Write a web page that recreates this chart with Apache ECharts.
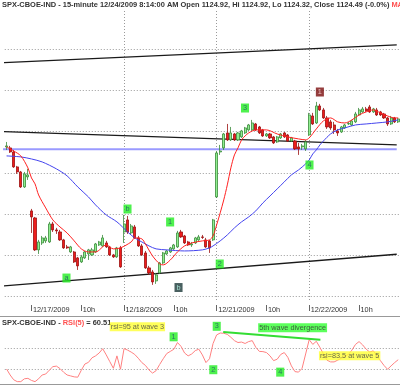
<!DOCTYPE html>
<html><head><meta charset="utf-8">
<script src="https://cdn.jsdelivr.net/npm/echarts@6/dist/echarts.min.js"></script>
<style>html,body{margin:0;padding:0;background:#fff}#c{width:400px;height:385px}</style>
</head><body><div id="c"></div>
<script>
// ---- categories (15-minute bars, times as shown on the chart) ----
const days = ['12/16/2009','12/17/2009','12/18/2009','12/21/2009','12/22/2009'];
const firstDayTimes = ['11:15','11:30','11:45','12:00','12:15','12:30','12:45'];
const dayTimes = ['6:30','6:45','7:00','7:15','7:30','7:45','8:00','8:15','8:30','8:45','9:00','9:15','9:30','9:45',
  '10:00','10:15','10:30','10:45','11:00','11:15','11:30','11:45','12:00','12:15','12:30','12:45'];
const hourTickTime = '10:00';
const hourTickLabel = '10h';

// ---- price candles [open, close, low, high] ----
const candles = [
[1113.14,1113.26,1112.77,1113.74],[1113.02,1112.53,1112.41,1113.26],[1112.53,1110.72,1110.60,1112.77],[1110.72,1110.11,1109.87,1110.84],
[1110.11,1108.29,1108.17,1110.23],[1108.29,1109.87,1108.17,1110.11],[1109.51,1109.75,1109.14,1110.48],
[1105.39,1104.66,1102.72,1105.63],[1104.54,1100.67,1100.54,1104.66],[1100.67,1101.63,1100.18,1101.88],[1101.51,1102.12,1101.27,1102.36],
[1101.76,1102.12,1101.51,1102.36],[1101.63,1103.81,1101.51,1104.06],[1103.81,1103.09,1102.84,1104.06],[1103.09,1102.97,1102.60,1103.33],
[1102.84,1101.88,1101.76,1103.09],[1101.88,1100.91,1100.79,1102.00],[1101.03,1100.91,1100.79,1101.27],[1100.42,1101.03,1100.30,1101.15],
[1100.42,1099.21,1099.09,1100.54],[1099.70,1098.73,1098.24,1099.82],[1099.21,1099.82,1099.09,1100.06],[1099.70,1100.42,1099.58,1100.54],
[1100.18,1100.67,1099.45,1100.79],[1100.06,1100.67,1099.94,1100.91],[1100.42,1101.39,1100.30,1101.51],[1101.27,1101.63,1101.15,1101.76],
[1101.15,1102.12,1101.03,1102.48],[1101.51,1101.03,1100.91,1101.76],[1101.03,1100.06,1099.94,1101.15],[1100.06,1099.82,1099.70,1100.18],
[1099.82,1100.91,1099.70,1101.03],[1100.91,1098.61,1098.49,1101.15],
[1102.84,1103.81,1101.51,1104.90],[1104.30,1102.84,1102.60,1104.78],[1102.72,1103.57,1102.48,1103.81],[1103.45,1102.12,1102.00,1103.69],
[1102.12,1101.15,1101.03,1102.36],[1101.15,1100.06,1099.94,1101.39],[1100.30,1098.49,1098.37,1100.54],[1098.49,1097.88,1097.64,1098.73],
[1098.00,1096.79,1096.43,1098.24],[1096.91,1097.64,1096.55,1097.88],[1097.88,1099.09,1097.76,1099.21],[1099.09,1100.30,1098.97,1100.42],
[1100.18,1100.54,1100.06,1100.67],[1100.42,1100.91,1100.30,1101.03],[1100.79,1101.27,1100.67,1101.39],[1101.03,1102.72,1100.91,1102.97],
[1102.84,1102.24,1102.12,1103.09],[1102.36,1101.51,1101.39,1102.48],[1101.63,1101.27,1101.15,1101.76],[1101.27,1101.39,1101.03,1101.63],
[1101.51,1102.12,1101.39,1102.24],[1101.88,1102.24,1101.76,1102.48],[1102.24,1102.18,1102.00,1102.48],[1101.88,1101.03,1100.91,1102.12],
[1101.76,1100.91,1100.30,1101.88],[1101.88,1104.30,1101.76,1104.42],
[1107.08,1112.41,1106.96,1112.65],[1112.53,1112.65,1112.17,1113.38],[1113.02,1114.71,1112.77,1114.83],[1114.83,1113.99,1113.86,1115.92],
[1113.99,1114.83,1113.86,1115.56],[1114.71,1113.99,1113.86,1114.83],[1113.99,1114.83,1113.86,1114.95],[1114.35,1115.08,1114.23,1115.20],
[1114.83,1115.44,1114.71,1115.56],[1115.20,1115.80,1115.08,1115.92],[1115.20,1116.04,1115.08,1116.41],[1115.92,1115.20,1115.08,1116.04],
[1115.56,1114.83,1114.71,1115.68],[1115.20,1114.47,1114.35,1115.32],[1114.47,1114.71,1114.35,1114.83],[1114.71,1114.23,1114.11,1114.83],
[1114.35,1113.62,1113.50,1114.47],[1113.74,1114.35,1113.62,1114.47],[1114.23,1114.71,1114.11,1114.83],[1114.83,1114.35,1114.23,1114.95],
[1114.59,1113.86,1113.74,1114.71],[1113.86,1114.23,1113.74,1114.35],[1113.86,1112.90,1112.77,1113.99],[1113.14,1112.90,1112.17,1113.62],
[1113.14,1113.26,1112.77,1113.50],[1112.90,1113.74,1112.65,1113.99],
[1114.59,1117.01,1114.47,1117.26],[1116.89,1115.92,1115.80,1117.26],[1116.04,1118.10,1115.92,1118.59],[1118.10,1117.62,1117.50,1118.35],
[1117.62,1116.65,1116.53,1117.86],[1116.65,1115.56,1115.32,1116.89],[1116.17,1115.44,1115.20,1116.41],[1115.80,1115.20,1114.71,1116.17],
[1115.08,1114.83,1114.47,1115.32],[1114.95,1115.56,1114.83,1115.68],[1115.44,1115.80,1115.32,1115.92],[1115.92,1115.98,1115.80,1116.17],
[1115.80,1116.29,1115.68,1116.41],[1116.17,1117.13,1116.04,1117.38],[1117.01,1117.62,1116.89,1117.86],[1117.38,1117.74,1117.26,1117.98],
[1117.74,1117.50,1117.38,1117.98],[1117.98,1117.38,1117.26,1118.22],[1117.38,1117.74,1117.26,1117.86],[1117.62,1117.01,1116.89,1117.86],
[1117.38,1117.01,1116.89,1117.50],[1117.13,1116.65,1116.53,1117.26],[1116.65,1115.92,1115.68,1116.77],[1115.92,1116.65,1115.80,1116.89],
[1116.65,1116.17,1116.04,1116.77],[1116.17,1116.53,1116.04,1116.65]
];

// ---- moving averages [bar index, value] ----
const maRed = [[0,1113.14],[2,1112.65],[4,1112.05],[6,1110.60],[7,1109.38],[8,1108.66],[9,1107.32],[11,1105.75],[13,1104.30],
[15,1103.45],[17,1102.72],[19,1101.76],[21,1100.79],[23,1100.42],[25,1100.42],[28,1101.27],[30,1100.79],[32,1100.91],[35,1101.63],
[36,1102.12],[38,1102.00],[39,1101.39],[41,1099.94],[43,1098.97],[44,1098.85],[46,1099.45],[48,1100.42],[50,1101.15],[52,1101.51],
[55,1101.76],[57,1101.88],[58,1102.36],[59,1103.69],[60,1105.15],[61,1106.72],[62,1108.54],[63,1110.60],[64,1112.17],[65,1113.02],
[66,1113.99],[67,1114.47],[68,1114.83],[70,1115.20],[73,1115.20],[76,1114.71],[79,1114.35],[82,1114.11],[84,1113.99],[85,1114.23],
[87,1115.32],[89,1116.29],[91,1116.65],[93,1116.17],[95,1116.04],[97,1116.41],[99,1117.01],[101,1117.38],[103,1117.62],[105,1117.26],
[107,1116.89],[109,1116.65],[110,1116.65]];
const maBlue = [[0,1112.05],[4,1111.93],[7,1111.68],[10,1111.32],[14,1110.48],[17,1109.63],[20,1108.29],[23,1107.08],[25,1106.11],
[28,1104.90],[31,1104.06],[34,1102.84],[36,1102.12],[38,1101.63],[40,1101.15],[42,1100.79],[45,1100.67],[50,1100.54],[55,1100.67],
[57,1100.91],[58,1101.15],[60,1101.76],[62,1102.48],[64,1103.33],[66,1104.06],[68,1104.66],[70,1105.39],[72,1106.36],[74,1107.20],
[76,1108.05],[78,1108.90],[80,1109.75],[82,1110.35],[84,1111.08],[85,1111.56],[86,1112.29],[87,1112.77],[88,1113.38],[89,1113.86],
[91,1114.71],[93,1115.20],[95,1115.44],[98,1115.80],[101,1115.92],[104,1116.04],[107,1116.17],[110,1116.41]];

// ---- RSI(5) per bar ----
const rsi = [30.5,19.1,10.0,6.4,6.4,11.8,12.7,8.7,6.4,11.8,19.1,20.9,28.2,34.9,36.0,31.3,24.5,19.1,17.3,15.5,14.9,28.2,40.0,43.1,51.8,
55.5,60.9,69.1,57.3,44.5,31.8,55.5,30.0,69.4,66.4,62.7,58.2,50.9,42.7,37.3,28.7,22.7,27.3,39.1,50.0,60.0,64.0,68.2,80.9,73.6,60.9,
55.5,59.1,65.5,68.2,57.3,42.7,50.0,79.1,95.4,99.0,98.5,96.4,90.9,84.5,80.9,81.8,79.1,82.7,84.5,71.8,64.0,63.6,61.8,55.5,46.4,49.1,
58.2,61.8,52.7,36.4,25.5,24.5,31.8,59.1,86.4,77.3,83.3,71.8,59.1,47.3,44.0,44.0,47.3,50.9,54.5,58.2,66.4,77.3,82.7,76.4,68.2,62.7,
65.1,56.0,46.4,37.3,30.0,36.4,42.7,48.2];

// ---- drawn trendlines [bar position, value] ----
const upperTrend = [[-0.49,1123.35],[110.08,1125.49]];
const middleTrend = [[-0.49,1114.99],[110.08,1113.38]];
const blueLevel = [[-0.49,1112.86],[110.08,1112.86]];
const lowerTrend = [[-0.49,1096.31],[110.08,1100.14]];
const rsiDivergence = [[61.35,100.9],[88.64,86.4]];

// ---- annotations [text, bar position, value] ----
const waveMarks = [['a',17.33,1097.26],['b',34.47,1105.62],['1',46.44,1104.05],['2',60.37,1098.96],['3',67.47,1117.85],['4',85.58,1110.95]];
const darkMarks = [['b',48.8,1096.11]];
const redMarks = [['1',88.5,1119.79]];
const rsiWaveMarks = [['1',47.42,91.8],['2',58.56,29.1],['3',59.53,111.8],['4',77.36,24.5]];
const rsiYellowNotes = [['rsi=95 at wave 3',37.25,110.9],['rsi=83.5 at wave 5',96.86,55.8]];
const rsiGreenNotes = [['5th wave divergence',80.84,109.1]];

const priceGrid = [1095,1100,1105,1110,1115,1120,1125];
const rsiLevels = [30,70];

const titleText = 'SPX-CBOE-IND - 15-minute 12/24/2009 8:14:00 AM Open 1124.92, Hi 1124.92, Lo 1124.32, Close 1124.49 (-0.0%) ';
const rsiTitle = ['SPX-CBOE-IND - ','RSI(5)',' = 60.51'];

// ---- build ----
const cats = [], catTime = [], catDay = [];
days.forEach((d, k) => {
  (k === 0 ? firstDayTimes : dayTimes).forEach(t => { cats.push(d + ' ' + t); catTime.push(t); catDay.push(d); });
});
const dayStarts = [];
catTime.forEach((t, i) => { if (t === dayTimes[0]) dayStarts.push(i); });
const showTick = (i) => catTime[i] === dayTimes[0] || catTime[i] === hourTickTime;
const FONT = '"Liberation Sans", Arial, sans-serif';
const FS = 7.3;
const TFS = 7.45;

function marks(arr, bg, fg, pad) {
  return arr.map(a => ({ value: [a[1], a[2]], name: a[0],
    label: { backgroundColor: bg, color: fg, padding: pad } }));
}
function markSeries(xi, yi, data) {
  return { type: 'scatter', xAxisIndex: xi, yAxisIndex: yi, clip: false, symbolSize: 0.1,
    itemStyle: { color: 'rgba(0,0,0,0)' }, z: 10, silent: true,
    label: { show: true, position: 'inside', formatter: p => p.name, fontSize: FS, fontFamily: FONT, lineHeight: 8 },
    data };
}
const trend = (data, color, width) => ({ type: 'line', xAxisIndex: 1, yAxisIndex: 0, data, clip: false, symbol: 'none',
  silent: true, lineStyle: { color, width }, z: 4 });

const chart = echarts.init(document.getElementById('c'), null, { renderer: 'canvas' });
chart.setOption({
  animation: false,
  title: [
    { text: '{a|' + titleText + '}{m|MA}', left: 2, top: 1, padding: 0,
      textStyle: { rich: { a: { fontSize: TFS, fontFamily: FONT, color: '#333' }, m: { fontSize: TFS, fontFamily: FONT, color: '#ff5050' } } } },
    { text: '{a|' + rsiTitle[0] + '}{r|' + rsiTitle[1] + '}{a|' + rsiTitle[2] + '}', left: 2, top: 319, padding: 0,
      textStyle: { rich: { a: { fontSize: TFS, fontFamily: FONT, color: '#333' }, r: { fontSize: TFS, fontFamily: FONT, color: '#ff5050' } } } }
  ],
  graphic: [
    { type: 'line', shape: { x1: 0, y1: 316.5, x2: 400, y2: 316.5 }, style: { stroke: '#999', lineWidth: 1 }, silent: true },
    { type: 'line', shape: { x1: 0, y1: 384.5, x2: 400, y2: 384.5 }, style: { stroke: '#999', lineWidth: 1 }, silent: true }
  ],
  grid: [
    { left: 4.775, top: 10, width: 398.49, height: 290 },
    { left: 4.775, top: 332.5, width: 398.49, height: 55 }
  ],
  xAxis: [
    { type: 'category', gridIndex: 0, data: cats, boundaryGap: true, offset: 5,
      axisLine: { show: false },
      axisTick: { show: true, alignWithLabel: true, interval: showTick, length: 6, lineStyle: { color: '#666' } },
      axisLabel: { interval: showTick, align: 'left', margin: 1.5, fontSize: FS, fontFamily: FONT, color: '#333', padding: [0, 0, 0, 1.5],
        formatter: (v, i) => catTime[i] === dayTimes[0] ? catDay[i] : hourTickLabel },
      splitLine: { show: false } },
    { type: 'value', gridIndex: 0, min: 0, max: cats.length, show: false },
    { type: 'category', gridIndex: 1, data: cats, show: false },
    { type: 'value', gridIndex: 1, min: 0, max: cats.length, show: false }
  ],
  yAxis: [
    { type: 'value', gridIndex: 0, min: 1094.6, max: 1129.72, show: false, splitLine: { show: false } },
    { type: 'value', gridIndex: 1, min: 0, max: 100, show: false, splitLine: { show: false } }
  ],
  series: [
    { type: 'line', xAxisIndex: 0, yAxisIndex: 0, data: [], z: 1, silent: true,
      markLine: { silent: true, symbol: 'none', z: 1, label: { show: false }, animation: false,
        lineStyle: { color: '#9a9a9a', type: [1, 2], width: 1 },
        data: priceGrid.map(v => ({ yAxis: v })).concat(dayStarts.slice(1).map(i => ({ xAxis: i }))) } },
    trend(upperTrend, '#1a1a1a', 1.3),
    trend(middleTrend, '#1a1a1a', 1.3),
    trend(lowerTrend, '#1a1a1a', 1.3),
    trend(blueLevel, '#9a9aff', 2),
    { type: 'candlestick', xAxisIndex: 0, yAxisIndex: 0, data: candles, barWidth: 2.6, z: 5,
      itemStyle: { color: '#90ee90', color0: '#ee1c1c', borderColor: '#3a8a3a', borderColor0: '#9b1111', borderWidth: 0.8 } },
    { type: 'line', xAxisIndex: 0, yAxisIndex: 0, data: maBlue, symbol: 'none', smooth: 0.3, z: 6,
      lineStyle: { color: '#4444ee', width: 1 } },
    { type: 'line', xAxisIndex: 0, yAxisIndex: 0, data: maRed, symbol: 'none', smooth: 0.3, z: 6,
      lineStyle: { color: '#ff2020', width: 1 } },
    markSeries(1, 0, marks(waveMarks, '#22ee22', '#225566', [1, 2, 0, 2])
      .concat(marks(darkMarks, '#1c3838', '#bfe', [1, 2, 0, 2]))
      .concat(marks(redMarks, '#7a0c0c', '#fdd', [1, 2, 0, 2]))),
    // RSI panel
    { type: 'line', xAxisIndex: 2, yAxisIndex: 1, data: [], silent: true,
      markLine: { silent: true, symbol: 'none', z: 1, label: { show: false }, animation: false,
        lineStyle: { color: '#9a9a9a', type: [1, 2], width: 1 }, data: rsiLevels.map(v => ({ yAxis: v })) } },
    { type: 'line', xAxisIndex: 2, yAxisIndex: 1, data: rsi, symbol: 'none', z: 5,
      lineStyle: { color: '#ff8080', width: 1 } },
    { type: 'line', xAxisIndex: 3, yAxisIndex: 1, data: rsiDivergence, symbol: 'none', clip: false, z: 6,
      lineStyle: { color: '#33dd33', width: 2 } },
    markSeries(3, 1, marks(rsiWaveMarks, '#22ee22', '#225566', [1, 2, 0, 2])
      .concat(marks(rsiYellowNotes, '#ffff33', '#444', [1, 1, 0, 1]))
      .concat(marks(rsiGreenNotes, '#33ff33', '#333', [1, 1, 0, 1])))
  ]
});
</script></body></html>
